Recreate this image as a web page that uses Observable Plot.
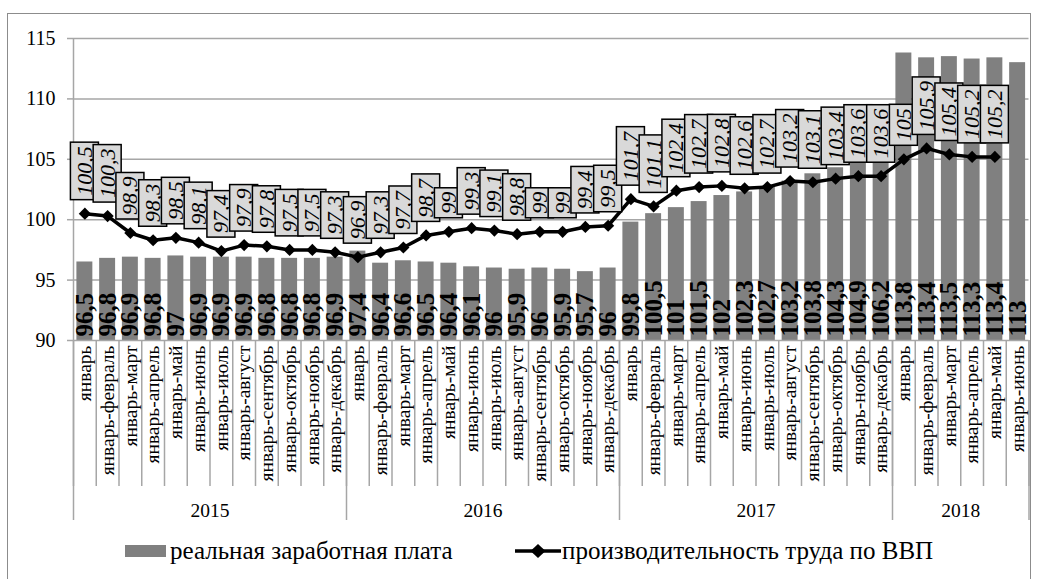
<!DOCTYPE html>
<html><head><meta charset="utf-8">
<script src="https://cdn.jsdelivr.net/npm/d3@7"></script>
<script src="https://cdn.jsdelivr.net/npm/@observablehq/plot@0.6"></script>
<style>
body{margin:0;background:#fff;font-family:"Liberation Serif","Times New Roman",serif;}
#wrap{position:relative;width:1038px;height:579px;overflow:hidden;background:#fff;}
#frame{position:absolute;left:7px;top:13px;width:1024px;height:575px;border:1.5px solid #8c8c8c;box-sizing:border-box;pointer-events:none;}
#chart{position:absolute;left:0;top:0;}
#legend{position:absolute;left:0;top:528px;width:1038px;height:51px;font-size:25px;color:#000;}
#legend .sw{position:absolute;top:17px;width:41px;height:12px;background:#808080;}
#legend .lt{position:absolute;top:10px;line-height:26px;white-space:nowrap;}
#legend svg{position:absolute;top:15px;}
</style>
</head><body>
<div id="wrap">
  <div id="chart"></div>
  <div id="legend"></div>
  <div id="frame"></div>
</div>
<script>
const years = ["2015", "2016", "2017", "2018"];
const monthsPerYear = [12, 12, 12, 6];
const months = ["январь", "январь-февраль", "январь-март", "январь-апрель", "январь-май", "январь-июнь",
  "январь-июль", "январь-август", "январь-сентябрь", "январь-октябрь", "январь-ноябрь", "январь-декабрь"];
const wages = [
  96.5, 96.8, 96.9, 96.8, 97, 96.9, 96.9, 96.9, 96.8, 96.8, 96.8, 96.9,
  97.4, 96.4, 96.6, 96.5, 96.4, 96.1, 96, 95.9, 96, 95.9, 95.7, 96,
  99.8, 100.5, 101, 101.5, 102, 102.3, 102.7, 103.2, 103.8, 104.3, 104.9, 106.2,
  113.8, 113.4, 113.5, 113.3, 113.4, 113
];
const productivity = [
  100.5, 100.3, 98.9, 98.3, 98.5, 98.1, 97.4, 97.9, 97.8, 97.5, 97.5, 97.3,
  96.9, 97.3, 97.7, 98.7, 99, 99.3, 99.1, 98.8, 99, 99, 99.4, 99.5,
  101.7, 101.1, 102.4, 102.7, 102.8, 102.6, 102.7, 103.2, 103.1, 103.4, 103.6, 103.6,
  105, 105.9, 105.4, 105.2, 105.2
];
const yTicks = [90, 95, 100, 105, 110, 115];
const seriesNames = ["реальная заработная плата", "производительность труда по ВВП"];

// build table
const rows = [];
let idx = 0;
years.forEach((yr, k) => {
  for (let m = 0; m < monthsPerYear[k]; m++) {
    rows.push({i: idx, year: yr, month: months[m], wage: wages[idx], prod: productivity[idx]});
    idx++;
  }
});
const n = rows.length;
const prodRows = rows.filter(d => d.prod != null);
const fmt = v => String(v).replace(".", ",");
const yearBounds = [0];
monthsPerYear.forEach(c => yearBounds.push(yearBounds[yearBounds.length - 1] + c));
const yearMids = years.map((_, k) => (yearBounds[k] + yearBounds[k + 1]) / 2);
const yBase = yTicks[0];
const gray = "#a6a6a6";
const cx = d => d.i + 0.5;
const FONT = "'Liberation Serif', 'Times New Roman', serif";

const plot = Plot.plot({
  width: 1038,
  height: 528,
  marginLeft: 73,
  marginRight: 9.5,
  marginTop: 38,
  marginBottom: 188,
  x: {domain: [0, n]},
  y: {domain: [yTicks[0], yTicks[yTicks.length - 1]]},
  style: {fontFamily: FONT, background: "transparent", color: "black"},
  marks: [
    Plot.gridY(yTicks.slice(1), {stroke: gray, strokeOpacity: 1, strokeWidth: 1.5}),
    Plot.axisY({ticks: yTicks, tickSize: 6, tickPadding: 12, fontSize: 20, fontFamily: FONT, stroke: gray, strokeWidth: 1.5, tickFormat: d => String(d)}),
    Plot.ruleX([0], {stroke: gray, strokeWidth: 1.5}),
    Plot.rect(rows, {x1: d => d.i, x2: d => d.i + 1, y1: () => yBase, y2: "wage", fill: "#808080", insetLeft: 3.4, insetRight: 3.4}),
    Plot.ruleY([yBase], {stroke: gray, strokeWidth: 1.5}),
    Plot.axisX({ticks: d3.range(0, n + 1), tickSize: 146, tickFormat: () => "", stroke: gray, strokeWidth: 1.5}),
    Plot.axisX({ticks: yearBounds, tickSize: 180, tickFormat: () => "", stroke: gray, strokeWidth: 1.5}),
    Plot.axisX({ticks: rows.map(cx), tickSize: 0, tickPadding: 5, tickRotate: -90, fontSize: 19.5, fontFamily: FONT,
      tickFormat: v => rows[Math.floor(v)].month}),
    Plot.axisX({ticks: yearMids, tickSize: 0, tickPadding: 163, fontSize: 19.5, fontFamily: FONT,
      tickFormat: v => years[yearMids.indexOf(v)]}),
    Plot.text(rows, {x: cx, y: () => yBase, text: d => fmt(d.wage), rotate: -90, textAnchor: "start",
      dy: -4, fontWeight: "bold", fontSize: 25, fontFamily: FONT, fill: "black"}),
    Plot.line(prodRows, {x: cx, y: "prod", stroke: "black", strokeWidth: 3.5}),
    Plot.dot(prodRows, {x: cx, y: "prod", symbol: "diamond2", r: 5.5, fill: "black", stroke: "none"}),
    Plot.text(prodRows, {x: cx, y: "prod", text: d => fmt(d.prod), rotate: -90, textAnchor: "start",
      dy: -18, fontStyle: "italic", fontSize: 22, fontFamily: FONT, fill: "black"})
  ]
});
document.getElementById("chart").appendChild(plot);

// boxes behind the productivity labels
const padAlong = 4, padAcross = 1.5;
plot.querySelectorAll('g[font-style="italic"] text').forEach(t => {
  const b = t.getBBox();
  const r = document.createElementNS("http://www.w3.org/2000/svg", "rect");
  r.setAttribute("x", b.x - padAlong);
  r.setAttribute("y", b.y - padAcross);
  r.setAttribute("width", b.width + 2 * padAlong);
  r.setAttribute("height", b.height + 2 * padAcross);
  const tr = t.getAttribute("transform");
  if (tr) r.setAttribute("transform", tr);
  r.setAttribute("fill", "#d9d9d9");
  r.setAttribute("stroke", "black");
  r.setAttribute("stroke-width", "1.5");
  t.parentNode.insertBefore(r, t);
});

// legend
const lg = document.getElementById("legend");
lg.innerHTML = `
  <span class="sw" style="left:125px"></span>
  <span class="lt" style="left:170px">${seriesNames[0]}</span>
  <svg style="left:515px" width="46" height="16" viewBox="0 0 46 16">
    <line x1="0" y1="8" x2="46" y2="8" stroke="black" stroke-width="3.5"/>
    <path d="M23,1 L30.5,8 L23,15 L15.5,8 Z" fill="black"/>
  </svg>
  <span class="lt" style="left:562px">${seriesNames[1]}</span>`;
</script>
</body></html>
